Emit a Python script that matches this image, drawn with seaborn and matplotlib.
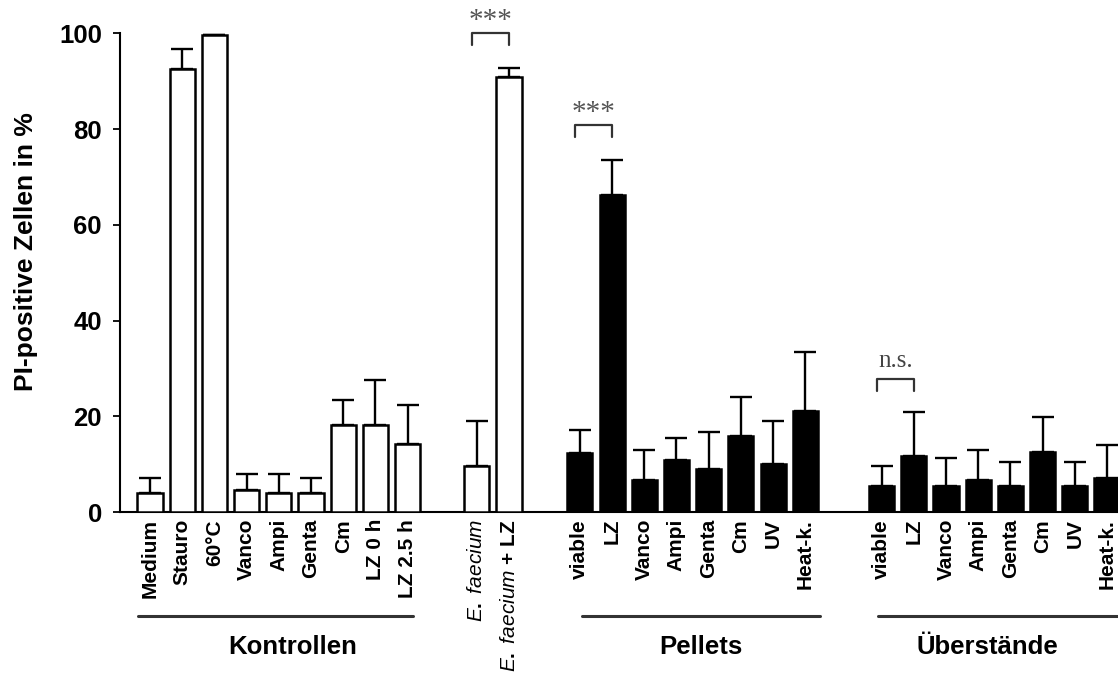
import numpy as np
import pandas as pd
import matplotlib
matplotlib.use("Agg")
import matplotlib.pyplot as plt
import matplotlib.transforms as mtransforms
import seaborn as sns

# ---- data ----
kontrollen_labels = ["Medium", "Stauro", "60°C", "Vanco", "Ampi", "Genta", "Cm", "LZ 0 h", "LZ 2.5 h"]
kontrollen_mean = [3.9, 92.6, 99.6, 4.6, 3.9, 3.9, 18.2, 18.2, 14.2]
kontrollen_err = [3.1, 4.2, 0.0, 3.3, 4.0, 3.1, 5.1, 9.4, 8.2]

faecium_labels = [r"$\mathit{E.\ faecium}$", r"$\mathit{E.\ faecium}$ + LZ"]
faecium_mean = [9.7, 90.9]
faecium_err = [9.3, 1.8]

pellet_labels = ["viable", "LZ", "Vanco", "Ampi", "Genta", "Cm", "UV", "Heat-k."]
pellet_mean = [12.4, 66.3, 6.6, 10.9, 9.0, 15.9, 10.0, 21.0]
pellet_err = [4.8, 7.3, 6.4, 4.6, 7.7, 8.2, 9.1, 12.5]

ueber_labels = ["viable", "LZ", "Vanco", "Ampi", "Genta", "Cm", "UV", "Heat-k."]
ueber_mean = [5.5, 11.6, 5.5, 6.6, 5.5, 12.5, 5.5, 7.2]
ueber_err = [4.2, 9.2, 5.7, 6.3, 5.0, 7.4, 5.0, 6.8]

group_names = ["Kontrollen", "Pellets", "Überstände"]
sig_labels = ["***", "***", "n.s."]
sig_levels = [100.1, 80.9, 27.8]

# ---- layout ----
group_start = [0, 10.15, 13.35, 22.72]
groups = [
    (kontrollen_labels, kontrollen_mean, kontrollen_err, "open"),
    (faecium_labels, faecium_mean, faecium_err, "open"),
    (pellet_labels, pellet_mean, pellet_err, "filled"),
    (ueber_labels, ueber_mean, ueber_err, "filled"),
]
rows = []
for start, (labs, means, errs, fill) in zip(group_start, groups):
    for k, (lab, m, e) in enumerate(zip(labs, means, errs)):
        rows.append({"pos": round(start + k, 2), "label": lab, "value": m, "err": e, "fill": fill})
df = pd.DataFrame(rows)

sns.set_theme(style="white", rc={"text.color": "black", "xtick.color": "black",
                                 "ytick.color": "black", "axes.labelcolor": "black"})
plt.rcParams["font.family"] = ["Liberation Sans", "DejaVu Sans"]
plt.rcParams["mathtext.fontset"] = "custom"
plt.rcParams["mathtext.it"] = "Liberation Sans:italic"
plt.rcParams["mathtext.rm"] = "Liberation Sans:bold"
plt.rcParams["mathtext.bf"] = "Liberation Sans:bold"

fig = plt.figure(figsize=(11.18, 6.73), dpi=100)
ax = fig.add_axes([120 / 1118, 1 - 512 / 673, 998 / 1118, (512 - 33.3) / 673])

sns.barplot(data=df, x="pos", y="value", hue="fill", palette={"open": "white", "filled": "black"},
            native_scale=True, dodge=False, width=0.78, errorbar=None, legend=False,
            edgecolor="black", linewidth=1.8, ax=ax, zorder=3)
ax.errorbar(df["pos"], df["value"], yerr=[np.zeros(len(df)), df["err"]], fmt="none",
            ecolor="black", elinewidth=1.7, capsize=8, capthick=1.7, zorder=2)

ax.set_xlim(-0.93, 30.06)
ax.set_ylim(0, 100)
ax.set_yticks([0, 20, 40, 60, 80, 100])
ax.tick_params(axis="y", left=True, length=5, width=1.3, direction="out", pad=8, labelsize=18.5)
for t in ax.get_yticklabels():
    t.set_fontweight("bold")
ax.set_xticks(df["pos"])
ax.set_xticklabels(df["label"], rotation=90, fontsize=15, fontweight="bold")
ax.tick_params(axis="x", length=0, pad=5)
ax.set_xlabel("")
ax.set_ylabel("")
for side in ["top", "right"]:
    ax.spines[side].set_visible(False)
for side in ["left", "bottom"]:
    ax.spines[side].set_color("black")
    ax.spines[side].set_linewidth(1.5)

fig.text(26 / 1118, 1 - 251.5 / 673, "PI-positive Zellen in %", rotation=90,
         ha="center", va="center", fontsize=19, fontweight="bold")

# group underlines and names
trans = mtransforms.blended_transform_factory(ax.transData, ax.transAxes)
line_spans = [(-0.36, 8.18), (13.41, 20.81), (22.6, 31.0)]
name_x = [4.43, 17.1, 26.0]
for (x0, x1), nx, name in zip(line_spans, name_x, group_names):
    ax.plot([x0, x1], [-0.2166, -0.2166], transform=trans, color="#333333", lw=2.2, clip_on=False)
    ax.text(nx, -0.282, name, transform=trans, ha="center", va="center",
            fontsize=18.5, fontweight="bold")

# significance brackets
pairs = [(df["pos"][9], df["pos"][10]), (df["pos"][11], df["pos"][12]), (df["pos"][19], df["pos"][20])]
for (xa, xb), lab, y in zip(pairs, sig_labels, sig_levels):
    xa = xa - 0.15
    ax.plot([xa, xa, xb, xb], [y - 2.6, y, y, y - 2.6], color="#333333", lw=1.6, clip_on=False)
    if lab == "***":
        ax.text((xa + xb) / 2, y + 2.5, lab, ha="center", va="center", fontsize=21,
                family="Liberation Serif", color="#555555", clip_on=False)
    else:
        ax.text((xa + xb) / 2, y + 3.8, lab, ha="center", va="center", fontsize=18,
                family="Liberation Serif", color="#444444", clip_on=False)

fig.savefig("out.png", dpi=100)
